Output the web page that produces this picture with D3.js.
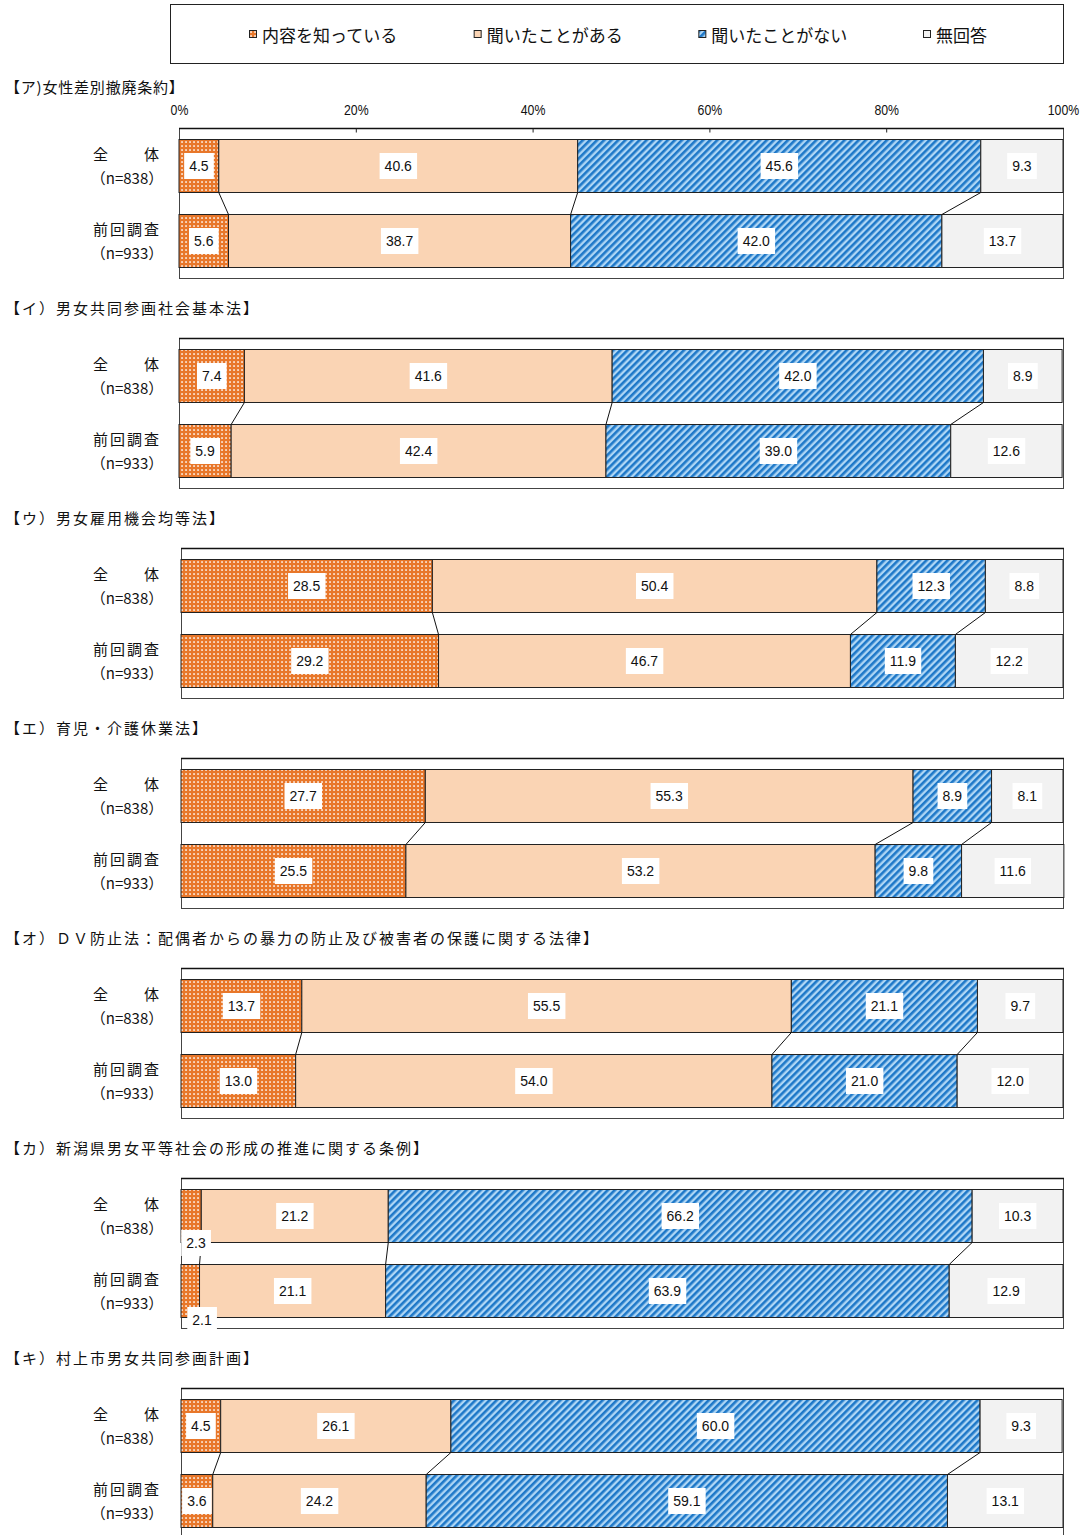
<!DOCTYPE html>
<html><head><meta charset="utf-8">
<script src="https://cdn.jsdelivr.net/npm/d3@7"></script>
<style>
body{margin:0;background:#fff;}
text{font-family:"Noto Sans CJK JP","Noto Sans",sans-serif;}
.num{font-family:"Liberation Sans",Arial,sans-serif;}
</style></head><body>
<svg id="c" width="1088" height="1535"></svg>
<script>
const seriesNames = ["内容を知っている","聞いたことがある","聞いたことがない","無回答"];
const panelTitles = [
  "【ア)女性差別撤廃条約】",
  "【イ）男女共同参画社会基本法】",
  "【ウ）男女雇用機会均等法】",
  "【エ）育児・介護休業法】",
  "【オ）ＤＶ防止法：配偶者からの暴力の防止及び被害者の保護に関する法律】",
  "【カ）新潟県男女平等社会の形成の推進に関する条例】",
  "【キ）村上市男女共同参画計画】"
];
const rowLabels = [["全　　体","（n=838）"],["前回調査","（n=933）"]];
const tickLabels = ["0%","20%","40%","60%","80%","100%"];
const tickValues = [0,20,40,60,80,100];
// values per panel: [全体, 前回調査], each [知っている, 聞いたことがある, ない, 無回答]
const valuesA = [[4.5,40.6,45.6,9.3],[5.6,38.7,42.0,13.7]];
const valuesI = [[7.4,41.6,42.0,8.9],[5.9,42.4,39.0,12.6]];
const valuesU = [[28.5,50.4,12.3,8.8],[29.2,46.7,11.9,12.2]];
const valuesE = [[27.7,55.3,8.9,8.1],[25.5,53.2,9.8,11.6]];
const valuesO = [[13.7,55.5,21.1,9.7],[13.0,54.0,21.0,12.0]];
const valuesKa = [[2.3,21.2,66.2,10.3],[2.1,21.1,63.9,12.9]];
const valuesKi = [[4.5,26.1,60.0,9.3],[3.6,24.2,59.1,13.1]];
const panelValues = [valuesA,valuesI,valuesU,valuesE,valuesO,valuesKa,valuesKi];

const svg = d3.select("#c");
const defs = svg.append("defs");
const orange="#E8772A", peach="#FAD4B4", blueD="#1E78C8", blueL="#AED6F5", gray="#F2F2F2";
const pd = defs.append("pattern").attr("id","dots").attr("patternUnits","userSpaceOnUse").attr("width",4).attr("height",4);
pd.append("rect").attr("width",4).attr("height",4).attr("fill",orange);
pd.append("rect").attr("x",1.2).attr("y",1.2).attr("width",1.7).attr("height",1.7).attr("fill","#fff").attr("opacity",0.85);
const ph = defs.append("pattern").attr("id","hatch").attr("patternUnits","userSpaceOnUse").attr("width",5).attr("height",5).attr("patternTransform","rotate(45)");
ph.append("rect").attr("width",5).attr("height",5).attr("fill",blueL);
ph.append("rect").attr("width",2.6).attr("height",5).attr("fill",blueD);
const fills = ["url(#dots)",peach,"url(#hatch)",gray];

// legend
svg.append("rect").attr("x",170.5).attr("y",4.5).attr("width",893).attr("height",59).attr("fill","#fff").attr("stroke","#222").attr("stroke-width",1);
const legX = d3.scalePoint().domain(seriesNames).range([249,923]);
seriesNames.forEach((n,i)=>{
  const g = svg.append("g").attr("transform",`translate(${legX(n)},30)`);
  g.append("rect").attr("x",0.5).attr("y",0.5).attr("width",7).attr("height",7).attr("fill",fills[i]).attr("stroke","#222").attr("stroke-width",1);
  g.append("text").attr("x",13).attr("y",4).attr("dominant-baseline","central").attr("font-size",17).attr("fill","#111").text(n);
});

const panelY = d3.scaleLinear().domain([0,6]).range([128,1388]);

panelValues.forEach((vals,pi)=>{
  const F = Math.round(panelY(pi));
  const left = pi<2 ? 179 : 181, right = 1063;
  const x = d3.scaleLinear().domain([0,100]).range([left,right]);
  const y = d3.scaleBand().domain([0,1]).range([F+11,F+139]).paddingInner(22/75).paddingOuter(0);
  const g = svg.append("g");
  // title
  g.append("text").attr("x",5).attr("y", pi===0 ? 86 : F-31).attr("dominant-baseline","central")
    .attr("font-size",15).attr("letter-spacing", pi===0 ? 0.8 : 2).attr("fill","#111").text(panelTitles[pi]);
  // frame
  g.append("rect").attr("x",left+0.5).attr("y",F+0.5).attr("width",right-left).attr("height",150).attr("fill","#fff").attr("stroke","#444").attr("stroke-width",1);
  g.append("line").attr("x1",left).attr("x2",right+1).attr("y1",F+0.5).attr("y2",F+0.5).attr("stroke","#111").attr("stroke-width",1.5);
  if(pi===0){
    const ax = d3.axisTop(x).tickValues(tickValues).tickSize(-4).tickFormat((d,i)=>tickLabels[i]);
    const axg = g.append("g").attr("transform",`translate(0,${F+0.5})`).call(ax);
    axg.select(".domain").remove();
    axg.selectAll(".tick line").attr("stroke","#222");
    axg.selectAll(".tick text").attr("class","num").attr("font-size",14).attr("fill","#111")
      .attr("transform","translate(0,-14) scale(0.88,1.05)").attr("dy",0).attr("y",0);
    axg.selectAll(".tick").filter(d=>d===0||d===100).select("line").remove();
  }
  // bars
  vals.forEach((row,ri)=>{
    let cum=0;
    const segs = row.map((v,si)=>{const s={v,si,x0:cum,x1:cum+v}; cum+=v; return s;});
    const by = y(ri), bh = y.bandwidth();
    g.selectAll(null).data(segs).enter().append("rect")
      .attr("x",d=>x(d.x0)).attr("y",by+0.5).attr("width",d=>x(d.x1)-x(d.x0)).attr("height",bh)
      .attr("fill",d=>fills[d.si]).attr("stroke","#222").attr("stroke-width",1);
    // row labels
    g.append("text").attr("x",127).attr("y",by+bh/2-12).attr("text-anchor","middle").attr("dominant-baseline","central")
      .attr("font-size",15).attr("letter-spacing",2).attr("fill","#111").text(rowLabels[ri][0]);
    g.append("text").attr("x",127).attr("y",by+bh/2+12).attr("text-anchor","middle").attr("dominant-baseline","central")
      .attr("font-size",15).attr("fill","#111").text(rowLabels[ri][1]);
  });
  // connector lines
  const cums = vals.map(r=>d3.cumsum(r));
  [0,1,2].forEach(k=>{
    g.append("line").attr("x1",x(cums[0][k])).attr("y1",y(0)+y.bandwidth()+0.5).attr("x2",x(cums[1][k])).attr("y2",y(1)+0.5)
      .attr("stroke","#111").attr("stroke-width",1);
  });
  // value labels
  vals.forEach((row,ri)=>{
    let cum=0;
    row.forEach((v,si)=>{
      const x0=cum; cum+=v;
      const w = x(cum)-x(x0);
      const txt = v.toFixed(1);
      let cx = x((x0+cum)/2), cy = y(ri)+y.bandwidth()/2+0.5;
      const small = w < 24;
      if(small){ cx = x(x0) + 15 + ri*6; cy = y(ri)+y.bandwidth()+1 + ri*2; }
      const t = g.append("text").attr("class","num").attr("x",cx).attr("y",cy).attr("text-anchor","middle")
        .attr("dominant-baseline","central").attr("font-size",14).attr("fill","#111").text(txt);
      const bb = t.node().getBBox();
      g.insert("rect", function(){return t.node();}).attr("x",bb.x-5).attr("y",cy-13).attr("width",bb.width+10).attr("height",26).attr("fill","#fff");
    });
  });
});
</script>
</body></html>
